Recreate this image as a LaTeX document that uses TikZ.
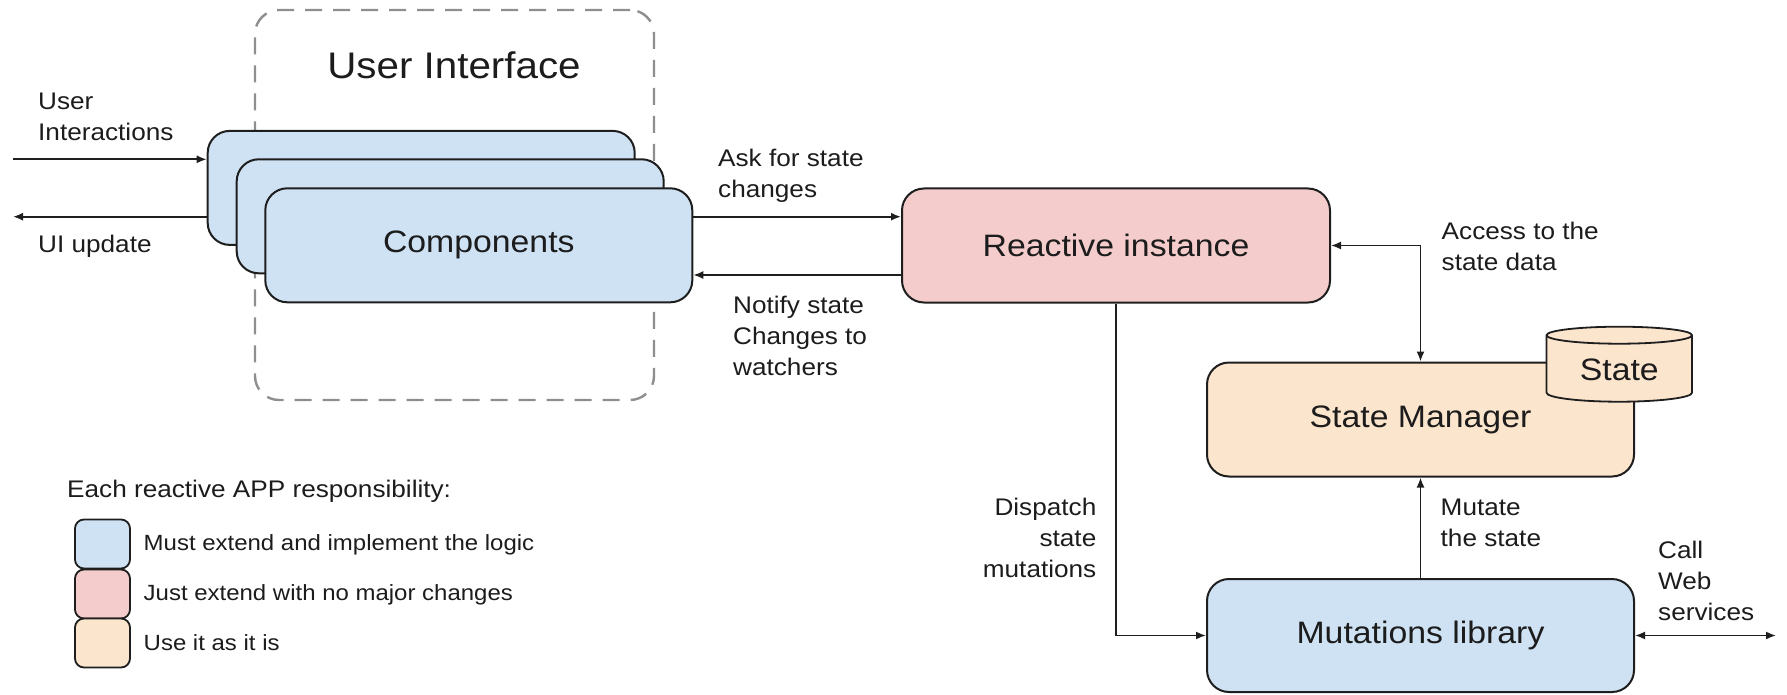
\documentclass[tikz,border=0pt]{standalone}
\usepackage{fontspec}
\setmainfont{Liberation Sans}[FakeStretch=1.09]
\usetikzlibrary{arrows.meta}
\definecolor{blueF}{HTML}{CFE2F3}
\definecolor{pinkF}{HTML}{F4CCCC}
\definecolor{orangeF}{HTML}{FCE5CD}
\definecolor{dashC}{HTML}{8E8E8E}
\definecolor{txtC}{HTML}{1C1C1C}
\definecolor{lineC}{HTML}{1E1E1E}
\begin{document}
\begin{tikzpicture}[x=1pt,y=-1pt,
  bigbox/.style={draw=lineC, line width=2pt, rounded corners=22pt, minimum width=427pt, minimum height=114pt, inner sep=0pt, font=\fontsize{31}{37}\selectfont, text=txtC},
  swatch/.style={draw=lineC, line width=1.8pt, rounded corners=9pt, minimum width=55pt, minimum height=49pt, inner sep=0pt},
  lbl/.style={inner sep=0pt, align=left, anchor=west, font=\fontsize{24}{31}\selectfont, text=txtC},
  arr/.style={draw=lineC, line width=1.7pt, -{Latex[length=10pt,width=8pt]}},
  dbl/.style={draw=lineC, line width=1.7pt, {Latex[length=10pt,width=8pt]}-{Latex[length=10pt,width=8pt]}}]
\useasboundingbox (0,0) rectangle (1787,695);

% dashed user interface frame
\node[draw=dashC, dash pattern=on 17pt off 11pt, line width=2.4pt, rounded corners=24pt, minimum width=399pt, minimum height=390pt, inner sep=0pt] (uibox) at (454.5,205) {};
\node[inner sep=0pt, font=\fontsize{37}{44}\selectfont, text=txtC] (uititle) at (454,65) {User Interface};

% component stack
\node[bigbox, fill=blueF] (box1) at (421.2,187.9) {};
\node[bigbox, fill=blueF] (box2) at (450.2,216.3) {};
\node[bigbox, fill=blueF] (box3) at (478.8,245.3) {Components};

% other boxes
\node[bigbox, fill=pinkF, minimum width=428pt] (react) at (1116,245.5) {Reactive instance};
\node[bigbox, fill=orangeF] (sm) at (1420.5,419.5) {State Manager};
\node[bigbox, fill=blueF, minimum height=113pt] (ml) at (1420.5,635.5) {Mutations library};

% cylinder
\fill[orangeF] (1546.5,335.2) -- (1546.5,392.7) arc[start angle=180,end angle=360,x radius=72.75pt,y radius=9pt] -- (1692,335.2) arc[start angle=0,end angle=180,x radius=72.75pt,y radius=8.5pt] -- cycle;
\draw[lineC, line width=1.8pt] (1546.5,335.2) -- (1546.5,392.7) arc[start angle=180,end angle=360,x radius=72.75pt,y radius=9pt] -- (1692,335.2) arc[start angle=0,end angle=180,x radius=72.75pt,y radius=8.5pt] -- cycle;
\draw[lineC, line width=1.8pt] (1546.5,335.2) arc[start angle=180,end angle=360,x radius=72.75pt,y radius=8.5pt];
\node[inner sep=0pt, font=\fontsize{31}{37}\selectfont, text=txtC] (st) at (1619.25,370) {State};

% coordinates for free ends / levels
\coordinate (uiin) at (13,159.3);
\coordinate (uiout) at (13,216.7);
\coordinate (askY) at (0,216.7);
\coordinate (notY) at (0,275);
\coordinate (web) at (1776,635.5);

% connectors
\draw[arr] (uiin) -- (box1.west |- uiin);
\draw[arr] (box1.west |- uiout) -- (uiout);
\draw[arr] (box3.east |- askY) -- (react.west |- askY);
\draw[arr] (react.west |- notY) -- (box3.east |- notY);
\draw[dbl] (react.east) -- (react.east -| sm.north) -- (sm.north);
\draw[arr] (react.south) |- (ml.west);
\draw[arr] (ml.north) -- (sm.south);
\draw[dbl] (ml.east) -- (web);

% labels
\node[lbl] (lUser) at (38,117) {User\\Interactions};
\node[lbl] (lUI) at (38,246) {UI update};
\node[lbl] (lAsk) at (718,176) {Ask for state\\changes};
\node[lbl] (lNot) at (733,335.7) {Notify state\\Changes to\\watchers};
\node[lbl, anchor=east, align=right] (lDis) at (1096.5,537.5) {Dispatch\\state\\mutations};
\node[lbl] (lAcc) at (1441.5,246.7) {Access to the\\state data};
\node[lbl] (lMut) at (1440.5,522.5) {Mutate\\the state};
\node[lbl] (lCall) at (1658,581) {Call\\Web\\services};

% legend
\node[lbl] (lhead) at (67,491.7) {Each reactive APP responsibility:};
\node[swatch, fill=blueF] (sw1) at (102.5,544) {};
\node[swatch, fill=pinkF] (sw2) at (102.5,594) {};
\node[swatch, fill=orangeF] (sw3) at (102.5,643) {};
\node[lbl, font=\fontsize{22}{27}\selectfont] (li1) at (143.5,545) {Must extend and implement the logic};
\node[lbl, font=\fontsize{22}{27}\selectfont] (li2) at (143.5,595) {Just extend with no major changes};
\node[lbl, font=\fontsize{22}{27}\selectfont] (li3) at (143.5,643) {Use it as it is};
\end{tikzpicture}
\end{document}
